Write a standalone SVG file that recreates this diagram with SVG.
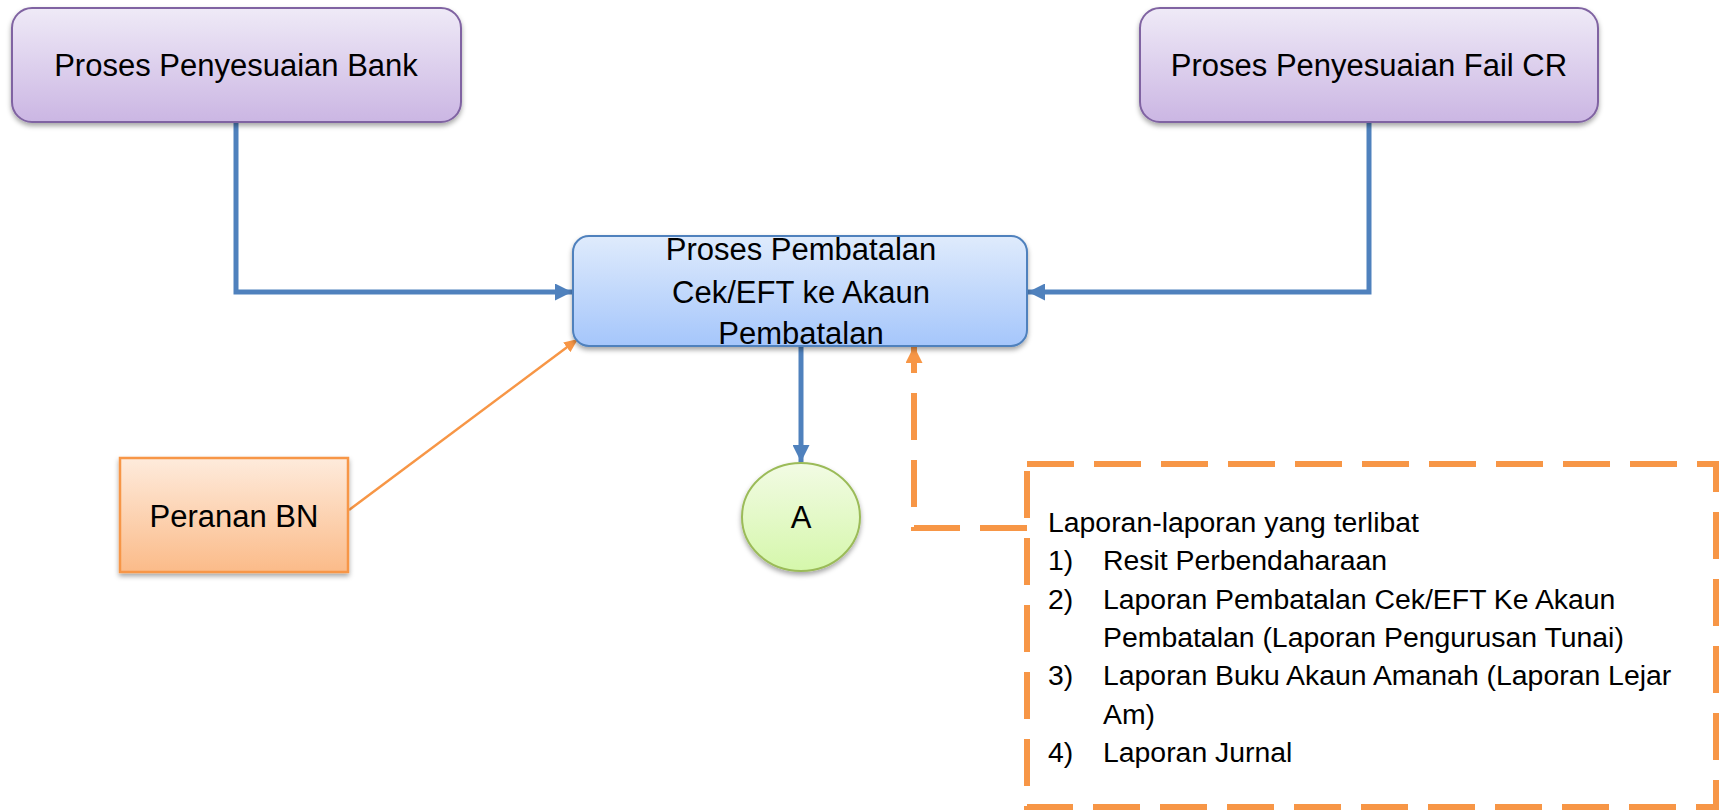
<svg xmlns="http://www.w3.org/2000/svg" width="1719" height="810" viewBox="0 0 1719 810">
<defs>
<linearGradient id="gPurple" x1="0" y1="0" x2="0" y2="1"><stop offset="0" stop-color="#efeaf7"/><stop offset="1" stop-color="#cbb6e3"/></linearGradient>
<linearGradient id="gBlue" x1="0" y1="0" x2="0" y2="1"><stop offset="0" stop-color="#dfebfc"/><stop offset="1" stop-color="#a5c6fb"/></linearGradient>
<linearGradient id="gOrange" x1="0" y1="0" x2="0" y2="1"><stop offset="0" stop-color="#feebdc"/><stop offset="1" stop-color="#fbbb89"/></linearGradient>
<linearGradient id="gGreen" x1="0" y1="0" x2="0" y2="1"><stop offset="0" stop-color="#f2fbe4"/><stop offset="1" stop-color="#d5f7ab"/></linearGradient>
<filter id="sh" x="-10%" y="-10%" width="120%" height="130%"><feDropShadow dx="0" dy="3" stdDeviation="2.5" flood-color="#000" flood-opacity="0.35"/></filter>
<marker id="aBlue" markerUnits="userSpaceOnUse" markerWidth="17" markerHeight="17" refX="17" refY="8.5" orient="auto"><path d="M0,0 L17,8.5 L0,17 z" fill="#4f81bd"/></marker>
<marker id="aOrange" markerUnits="userSpaceOnUse" markerWidth="17" markerHeight="17" refX="17" refY="8.5" orient="auto"><path d="M0,0 L17,8.5 L0,17 z" fill="#f79646"/></marker>
<marker id="aOrangeS" markerUnits="userSpaceOnUse" markerWidth="14" markerHeight="12" refX="14" refY="6" orient="auto"><path d="M0,0 L14,6 L0,12 z" fill="#f79646"/></marker>
</defs>
<style>
text{font-family:"Liberation Sans",Arial,sans-serif;fill:#000}
.big{font-size:31px;text-anchor:middle}
.lst{font-size:28.4px}
.blue{fill:none;stroke:#4f81bd;stroke-width:5}
.or{fill:none;stroke:#f79646}
</style>
<g id="connectors">
<path class="blue" d="M236,122 V292 H572" marker-end="url(#aBlue)"/>
<path class="blue" d="M1369,122 V292 H1028" marker-end="url(#aBlue)"/>
<path class="blue" d="M801,346 V462" marker-end="url(#aBlue)"/>
<path class="or" stroke-width="2.5" d="M349,510 L578,339" marker-end="url(#aOrangeS)"/>
<path class="or" stroke-width="6" stroke-dasharray="47 20" d="M1027,528 H914 V346" marker-end="url(#aOrange)"/>
</g>
<g id="bank">
<rect x="12" y="8" width="449" height="114" rx="20" fill="url(#gPurple)" stroke="#8064a2" stroke-width="2" filter="url(#sh)"/>
<text class="big" x="236" y="76">Proses Penyesuaian Bank</text>
</g>
<g id="failcr">
<rect x="1140" y="8" width="458" height="114" rx="20" fill="url(#gPurple)" stroke="#8064a2" stroke-width="2" filter="url(#sh)"/>
<text class="big" x="1369" y="76">Proses Penyesuaian Fail CR</text>
</g>
<g id="pembatalan">
<rect x="573" y="236" width="454" height="110" rx="16" fill="url(#gBlue)" stroke="#4f81bd" stroke-width="2" filter="url(#sh)"/>
<text class="big" x="801" y="260">Proses Pembatalan</text>
<text class="big" x="801" y="303">Cek/EFT ke Akaun</text>
<text class="big" x="801" y="344">Pembatalan</text>
</g>
<g id="peranan">
<rect x="120" y="458" width="228" height="114" fill="url(#gOrange)" stroke="#f79646" stroke-width="2.5" filter="url(#sh)"/>
<text class="big" x="234" y="527">Peranan BN</text>
</g>
<g id="A">
<ellipse cx="801" cy="517" rx="59" ry="54" fill="url(#gGreen)" stroke="#9bbb59" stroke-width="2" filter="url(#sh)"/>
<text class="big" x="801" y="528">A</text>
</g>
<g id="laporan">
<rect x="1027" y="464" width="689" height="343" fill="none" stroke="#f79646" stroke-width="6" stroke-dasharray="47 20"/>
<text class="lst" x="1048" y="532">Laporan-laporan yang terlibat</text>
<text class="lst" x="1048" y="570">1)</text><text class="lst" x="1103" y="570">Resit Perbendaharaan</text>
<text class="lst" x="1048" y="609">2)</text><text class="lst" x="1103" y="609">Laporan Pembatalan Cek/EFT Ke Akaun</text>
<text class="lst" x="1103" y="647">Pembatalan (Laporan Pengurusan Tunai)</text>
<text class="lst" x="1048" y="685">3)</text><text class="lst" x="1103" y="685">Laporan Buku Akaun Amanah (Laporan Lejar</text>
<text class="lst" x="1103" y="724">Am)</text>
<text class="lst" x="1048" y="762">4)</text><text class="lst" x="1103" y="762">Laporan Jurnal</text>
</g>
</svg>
